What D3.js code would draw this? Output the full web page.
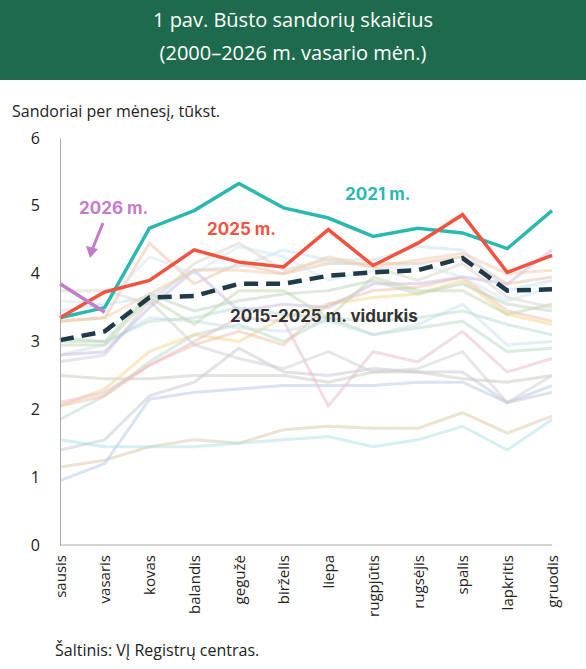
<!DOCTYPE html>
<html><head><meta charset="utf-8">
<script src="https://cdn.jsdelivr.net/npm/d3@7"></script>
<style>body{margin:0;background:#fff;font-family:"Open Sans",sans-serif}</style>
</head><body><div id="chart"></div>
<script>
const months = ["sausis","vasaris","kovas","balandis","gegužė","birželis","liepa","rugpjūtis","rugsėjis","spalis","lapkritis","gruodis"];
const y2021 = [3.35,3.5,4.67,4.93,5.33,4.97,4.82,4.55,4.67,4.6,4.37,4.93];
const y2025 = [3.35,3.73,3.9,4.35,4.17,4.1,4.65,4.12,4.45,4.87,4.02,4.27];
const y2026 = [3.85,3.43];
const avg = [3.02,3.15,3.65,3.67,3.85,3.85,3.97,4.02,4.05,4.23,3.75,3.77];
// earlier years, faint
const background = [
  {c:"#d9c9a3", v:[1.15,1.25,1.45,1.55,1.5,1.7,1.75,1.72,1.72,1.95,1.65,1.9]},
  {c:"#a9e2e6", v:[1.55,1.45,1.45,1.45,1.5,1.55,1.6,1.45,1.55,1.75,1.4,1.85]},
  {c:"#b4c8e8", v:[0.95,1.2,2.15,2.25,2.3,2.35,2.35,2.35,2.4,2.4,2.1,2.35]},
  {c:"#c3c8d8", v:[1.4,1.55,2.2,2.4,2.9,2.55,2.5,2.6,2.55,2.55,2.1,2.25]},
  {c:"#c9c9bf", v:[2.5,2.45,2.45,2.5,2.5,2.5,2.4,2.55,2.55,2.45,2.4,2.5]},
  {c:"#b7d9c8", v:[1.85,2.2,2.7,3.1,3.25,3.0,3.35,3.1,3.2,3.3,2.85,2.9]},
  {c:"#f4d58a", v:[2.05,2.3,2.85,3.1,3.0,3.35,3.55,3.65,3.7,3.9,3.4,3.25]},
  {c:"#f2bfa3", v:[2.05,2.2,2.65,2.95,3.15,2.95,3.55,3.75,3.8,3.95,3.45,3.3]},
  {c:"#eab9c9", v:[2.1,2.25,2.65,3.0,3.35,3.3,2.05,2.85,2.7,3.15,2.55,2.75]},
  {c:"#cfcfcf", v:[2.7,2.8,3.6,2.95,2.75,2.6,2.85,2.55,2.6,2.85,2.1,2.5]},
  {c:"#c8e0ec", v:[2.8,2.95,3.35,3.3,3.2,3.15,3.3,3.1,3.25,3.55,2.95,3.0]},
  {c:"#b6dbd6", v:[3.0,3.0,3.3,3.35,3.5,3.4,3.35,3.3,3.35,3.45,3.25,3.1]},
  {c:"#c7b8e3", v:[2.8,2.85,3.5,4.05,3.45,3.55,3.5,3.85,3.85,3.95,3.85,4.35]},
  {c:"#bfd7a8", v:[2.95,2.95,3.65,3.25,3.75,3.75,3.35,3.95,3.75,3.75,3.4,3.55]},
  {c:"#e8c2a8", v:[3.3,3.35,4.45,3.85,4.15,4.0,4.15,4.15,4.15,4.25,3.85,3.95]},
  {c:"#d9d4c7", v:[3.75,3.75,3.55,4.15,4.45,4.05,4.2,4.1,3.9,4.15,3.65,3.5]},
  {c:"#c7dff2", v:[3.45,3.55,3.65,4.05,4.1,4.35,4.2,4.2,4.4,4.35,3.75,3.9]},
  {c:"#d1e8f0", v:[3.6,3.55,4.25,4.0,4.4,4.25,3.9,4.05,4.15,3.95,3.6,3.8]},
  {c:"#f3c9a8", v:[3.3,3.35,3.7,4.05,4.05,4.0,4.25,4.1,4.2,4.3,4.0,4.05]},
  {c:"#bcd3c0", v:[3.05,3.0,3.7,3.45,3.6,3.7,3.75,3.9,3.7,3.85,3.55,3.45]}
];

const W = 586, H = 669;
const m = {l:60, r:34, t:138, b:124};
const svg = d3.select("#chart").append("svg").attr("width", W).attr("height", H);

svg.append("rect").attr("width", W).attr("height", 80).attr("fill", "#1d6b4c");
svg.append("text").attr("x", W/2).attr("y", 27).attr("text-anchor","middle").attr("fill","#fff")
  .attr("font-size", 20).text("1 pav. Būsto sandorių skaičius");
svg.append("text").attr("x", W/2).attr("y", 60).attr("text-anchor","middle").attr("fill","#fff")
  .attr("font-size", 20).text("(2000–2026 m. vasario mėn.)");
svg.append("text").attr("x", 12).attr("y", 117).attr("font-size", 16).attr("fill","#222")
  .text("Sandoriai per mėnesį, tūkst.");

const x = d3.scalePoint().domain(months).range([m.l, W - m.r]);
const y = d3.scaleLinear().domain([0, 6]).range([H - m.b, m.t]);

const line = d3.line().x((d, i) => x(months[i])).y(d => y(d));

svg.append("g").selectAll("path").data(background).join("path")
  .attr("d", d => line(d.v)).attr("fill","none").attr("stroke", d => d.c)
  .attr("stroke-width", 3).attr("opacity", 0.5);

svg.append("path").attr("d", line(y2021)).attr("fill","none").attr("stroke","#2bb8b0").attr("stroke-width",3.5);
svg.append("path").attr("d", line(y2025)).attr("fill","none").attr("stroke","#f0533f").attr("stroke-width",3.5);
svg.append("path").attr("d", line(avg)).attr("fill","none").attr("stroke","#1f3a48").attr("stroke-width",4.5)
  .attr("stroke-dasharray","14,8");
svg.append("path").attr("d", line(y2026)).attr("fill","none").attr("stroke","#c47bc9").attr("stroke-width",3.5);

// axes
const ya = svg.append("g").attr("transform", `translate(${m.l},0)`)
  .call(d3.axisLeft(y).ticks(6).tickSize(0).tickPadding(20));
ya.select(".domain").attr("stroke","#aaa");
ya.selectAll("text").attr("font-size",16).attr("fill","#222").attr("font-family","Open Sans");

const xa = svg.append("g").attr("transform", `translate(0,${H - m.b})`)
  .call(d3.axisBottom(x).tickSize(0));
xa.select(".domain").attr("stroke","#aaa").attr("d", `M${m.l},0H${W - m.r}`);
xa.selectAll("text").attr("font-size",15).attr("fill","#222").attr("font-family","Open Sans")
  .attr("text-anchor","end").attr("transform","rotate(-90)").attr("dx","-10").attr("dy","0.35em").attr("y",0);

// labels
const lab = (t, px, py, c) => svg.append("text").attr("x", px).attr("y", py).attr("fill", c)
  .attr("font-size", 17).attr("font-weight", "bold").attr("font-family","Inter").text(t);
lab("2021 m.", 345, 200, "#2bb8b0");
lab("2025 m.", 207, 235, "#f0533f");
lab("2026 m.", 79, 214, "#c47bc9");
lab("2015-2025 m. vidurkis", 230, 322, "#333");

svg.append("line").attr("x1",103).attr("y1",223).attr("x2",92).attr("y2",250)
  .attr("stroke","#c47bc9").attr("stroke-width",3);
svg.append("path").attr("d","M86,246 L90,258 L98,249 Z").attr("fill","#c47bc9");

svg.append("text").attr("x", 55).attr("y", 656).attr("font-size", 16).attr("fill","#222")
  .text("Šaltinis: VĮ Registrų centras.");
</script></body></html>
